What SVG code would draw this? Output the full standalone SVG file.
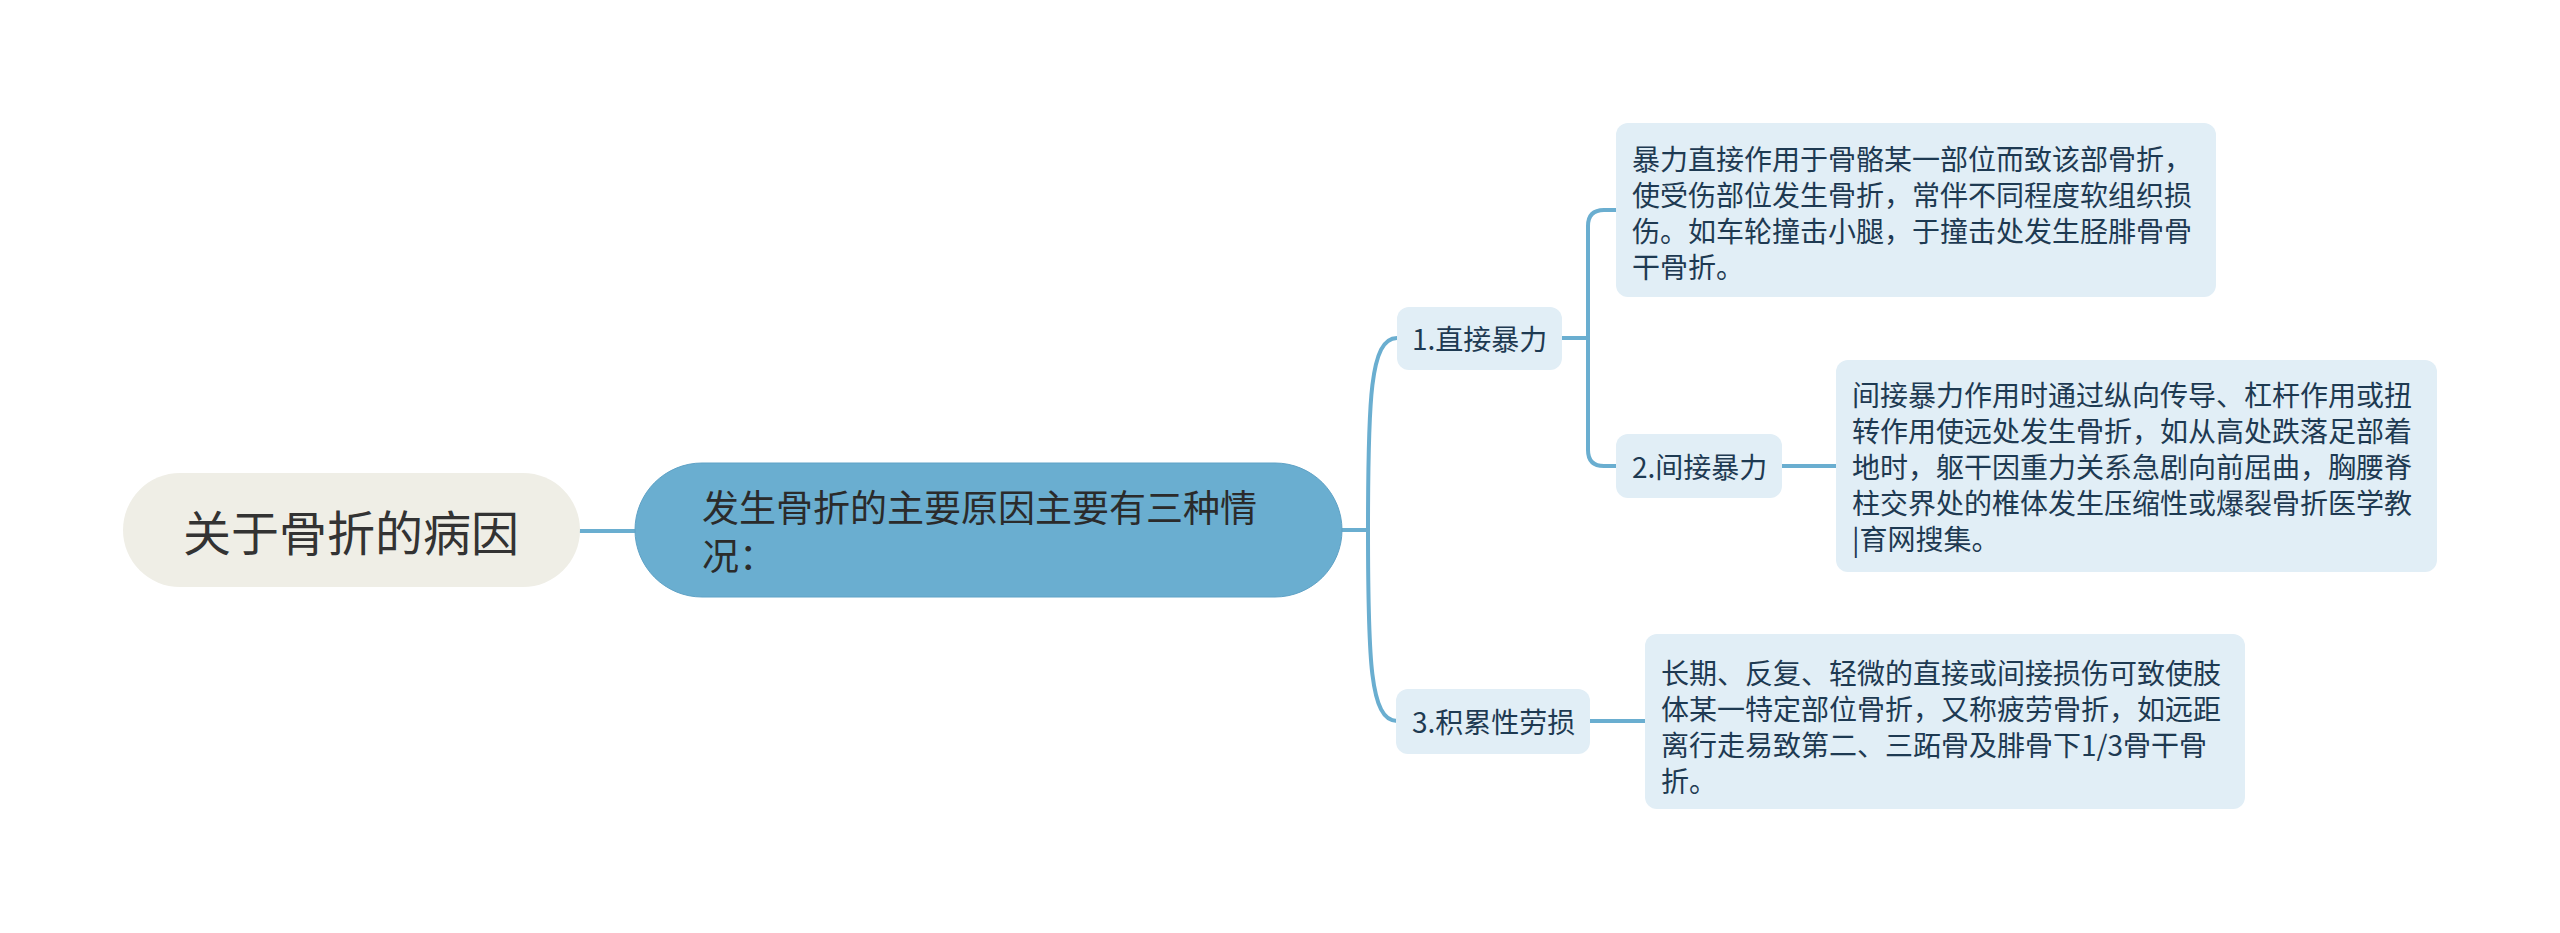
<svg xmlns="http://www.w3.org/2000/svg" width="2560" height="933" viewBox="0 0 2560 933">
<style>
text{font-family:"Noto Sans CJK SC","Noto Sans",sans-serif;dominant-baseline:central}
.root{fill:#efeee6}
.rt{font-size:48px;fill:#333333}
.main{fill:#6aaed0;stroke:#5fa2c6;stroke-width:1}
.mt{font-size:37px;fill:#2b2b2b}
.box{fill:#e1eef6}
.t{font-size:28px;fill:#1e3a52}
.c{fill:none;stroke:#6aaed0;stroke-width:4;stroke-linecap:round}
</style>
<rect width="2560" height="933" fill="#ffffff"/>
<g id="connectors">
<path class="c" d="M580,531 H636"/>
<path class="c" d="M1342,530 H1368"/>
<path class="c" d="M1368,530 C1368,400 1370,338 1397,338"/>
<path class="c" d="M1368,530 C1368,660 1370,721 1397,721"/>
<path class="c" d="M1562,338 H1588"/>
<path class="c" d="M1588,338 V226 Q1588,210 1604,210 H1616"/>
<path class="c" d="M1588,338 V450 Q1588,466 1604,466 H1616"/>
<path class="c" d="M1782,466 H1836"/>
<path class="c" d="M1590,721 H1645"/>
</g>
<g id="root">
<rect class="root" x="123" y="473" width="457" height="114" rx="57"/>
<text class="rt" x="351" y="530" text-anchor="middle">关于骨折的病因</text>
</g>
<g id="main">
<rect class="main" x="635" y="463" width="707" height="134" rx="67"/>
<text class="mt"><tspan x="702" y="506">发生骨折的主要原因主要有三种情</tspan><tspan x="702" y="554">况：</tspan></text>
</g>
<g id="n1">
<rect class="box" x="1397" y="307" width="165" height="63" rx="12"/>
<text class="t" x="1412" y="338">1.直接暴力</text>
</g>
<g id="n2">
<rect class="box" x="1616" y="434" width="166" height="64" rx="12"/>
<text class="t" x="1632" y="466">2.间接暴力</text>
</g>
<g id="n3">
<rect class="box" x="1396" y="689" width="194" height="65" rx="12"/>
<text class="t" x="1412" y="721">3.积累性劳损</text>
</g>
<g id="leaf1">
<rect class="box" x="1616" y="123" width="600" height="174" rx="12"/>
<text class="t"><tspan x="1632" y="158">暴力直接作用于骨骼某一部位而致该部骨折，</tspan><tspan x="1632" y="194">使受伤部位发生骨折，常伴不同程度软组织损</tspan><tspan x="1632" y="230">伤。如车轮撞击小腿，于撞击处发生胫腓骨骨</tspan><tspan x="1632" y="266">干骨折。</tspan></text>
</g>
<g id="leaf2">
<rect class="box" x="1836" y="360" width="601" height="212" rx="12"/>
<text class="t"><tspan x="1852" y="394">间接暴力作用时通过纵向传导、杠杆作用或扭</tspan><tspan x="1852" y="430">转作用使远处发生骨折，如从高处跌落足部着</tspan><tspan x="1852" y="466">地时，躯干因重力关系急剧向前屈曲，胸腰脊</tspan><tspan x="1852" y="502">柱交界处的椎体发生压缩性或爆裂骨折医学教</tspan><tspan x="1852" y="538">|育网搜集。</tspan></text>
</g>
<g id="leaf3">
<rect class="box" x="1645" y="634" width="600" height="175" rx="12"/>
<text class="t"><tspan x="1661" y="672">长期、反复、轻微的直接或间接损伤可致使肢</tspan><tspan x="1661" y="708">体某一特定部位骨折，又称疲劳骨折，如远距</tspan><tspan x="1661" y="744">离行走易致第二、三跖骨及腓骨下1/3骨干骨</tspan><tspan x="1661" y="780">折。</tspan></text>
</g>
</svg>
